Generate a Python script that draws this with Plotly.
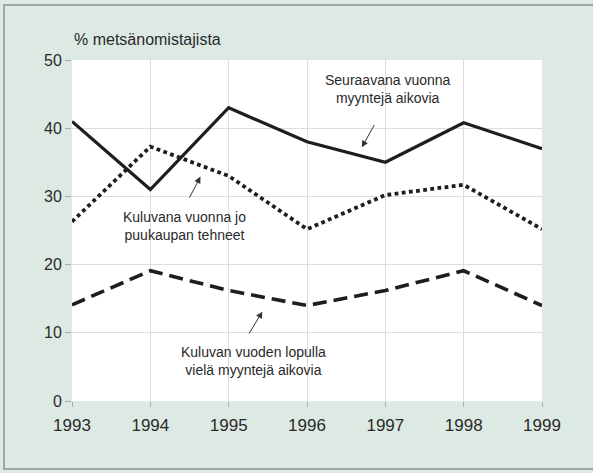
import plotly.graph_objects as go

years = [1993, 1994, 1995, 1996, 1997, 1998, 1999]
next_year_sellers = [41, 31, 43, 38, 35, 40.8, 37]
sold_this_year = [26.3, 37.3, 33, 25.2, 30.2, 31.7, 25.2]
end_of_year_sellers = [14.1, 19.1, 16.2, 14, 16.2, 19.1, 14]

y_ticks = [0, 10, 20, 30, 40, 50]
title_text = "% metsänomistajista"
label_next = "Seuraavana vuonna<br>myyntejä aikovia"
label_sold = "Kuluvana vuonna jo<br>puukaupan tehneet"
label_end = "Kuluvan vuoden lopulla<br>vielä myyntejä aikovia"

FONT = "Liberation Sans, Arial, sans-serif"
TXT = "#2a2a2a"
W, H = 593, 473
ML, MR, MT, MB = 72, 51, 60, 72

fig = go.Figure()
fig.add_trace(go.Scatter(x=years, y=next_year_sellers, mode="lines",
                         line=dict(color="#1e1e1e", width=3.2), showlegend=False))
fig.add_trace(go.Scatter(x=years, y=sold_this_year, mode="lines",
                         line=dict(color="#1e1e1e", width=3.8, dash="3.8px,3.4px"), showlegend=False))
fig.add_trace(go.Scatter(x=years, y=end_of_year_sellers, mode="lines",
                         line=dict(color="#1e1e1e", width=3.6, dash="14px,7px"), showlegend=False))

pw = W - ML - MR
ph = H - MT - MB
# frame around the whole figure, in paper coords
fx0 = (4 - ML) / pw
fx1 = (W + 4 - ML) / pw
fy0 = (H - MB - 469) / ph
fy1 = (H - MB - 5) / ph
fig.add_shape(type="rect", xref="paper", yref="paper", x0=fx0, x1=fx1, y0=fy0, y1=fy1,
              line=dict(color="#8a8f8c", width=1.5), layer="below")

anns = [
    dict(x=1997.04, y=45.7, text=label_next),
    dict(x=1994.44, y=25.6, text=label_sold),
    dict(x=1995.32, y=5.9, text=label_end),
]
for a in anns:
    fig.add_annotation(x=a["x"], y=a["y"], text=a["text"], showarrow=False,
                       font=dict(family=FONT, size=14, color=TXT), align="center")

arrows = [
    ((1996.70, 37.2), (1996.87, 40.7)),
    ((1994.64, 32.9), (1994.49, 29.6)),
    ((1995.43, 13.1), (1995.25, 9.7)),
]
for (hx, hy), (tx, ty) in arrows:
    fig.add_annotation(x=hx, y=hy, ax=tx, ay=ty, axref="x", ayref="y", text="",
                       showarrow=True, arrowhead=2, arrowsize=1.3, arrowwidth=1,
                       arrowcolor="#333")

fig.add_annotation(xref="paper", yref="paper", x=0, y=1, yshift=10, xanchor="left", yanchor="bottom",
                   text=title_text, showarrow=False, font=dict(family=FONT, size=16, color=TXT))

fig.update_layout(
    width=W, height=H,
    margin=dict(l=ML, r=MR, t=MT, b=MB),
    paper_bgcolor="#dde9e3",
    plot_bgcolor="#ffffff",
    font=dict(family=FONT, color=TXT),
)
fig.update_xaxes(range=[1993, 1999], tickvals=years, ticktext=[str(y) for y in years],
                 showgrid=True, gridcolor="#dcdce4", gridwidth=1, zeroline=False, showline=False,
                 ticks="outside", ticklen=5, tickcolor="#aaaaaa", ticklabelstandoff=4,
                 tickfont=dict(family=FONT, size=17, color=TXT))
fig.update_yaxes(range=[0, 50], tickvals=y_ticks,
                 showgrid=True, gridcolor="#dcdce4", gridwidth=1, zeroline=False, showline=False,
                 ticks="outside", ticklen=6, tickcolor="#aaaaaa",
                 tickfont=dict(family=FONT, size=16, color=TXT))

fig.write_html("out.html", config={"displayModeBar": False},
               post_script="document.body.style.margin='0';")
